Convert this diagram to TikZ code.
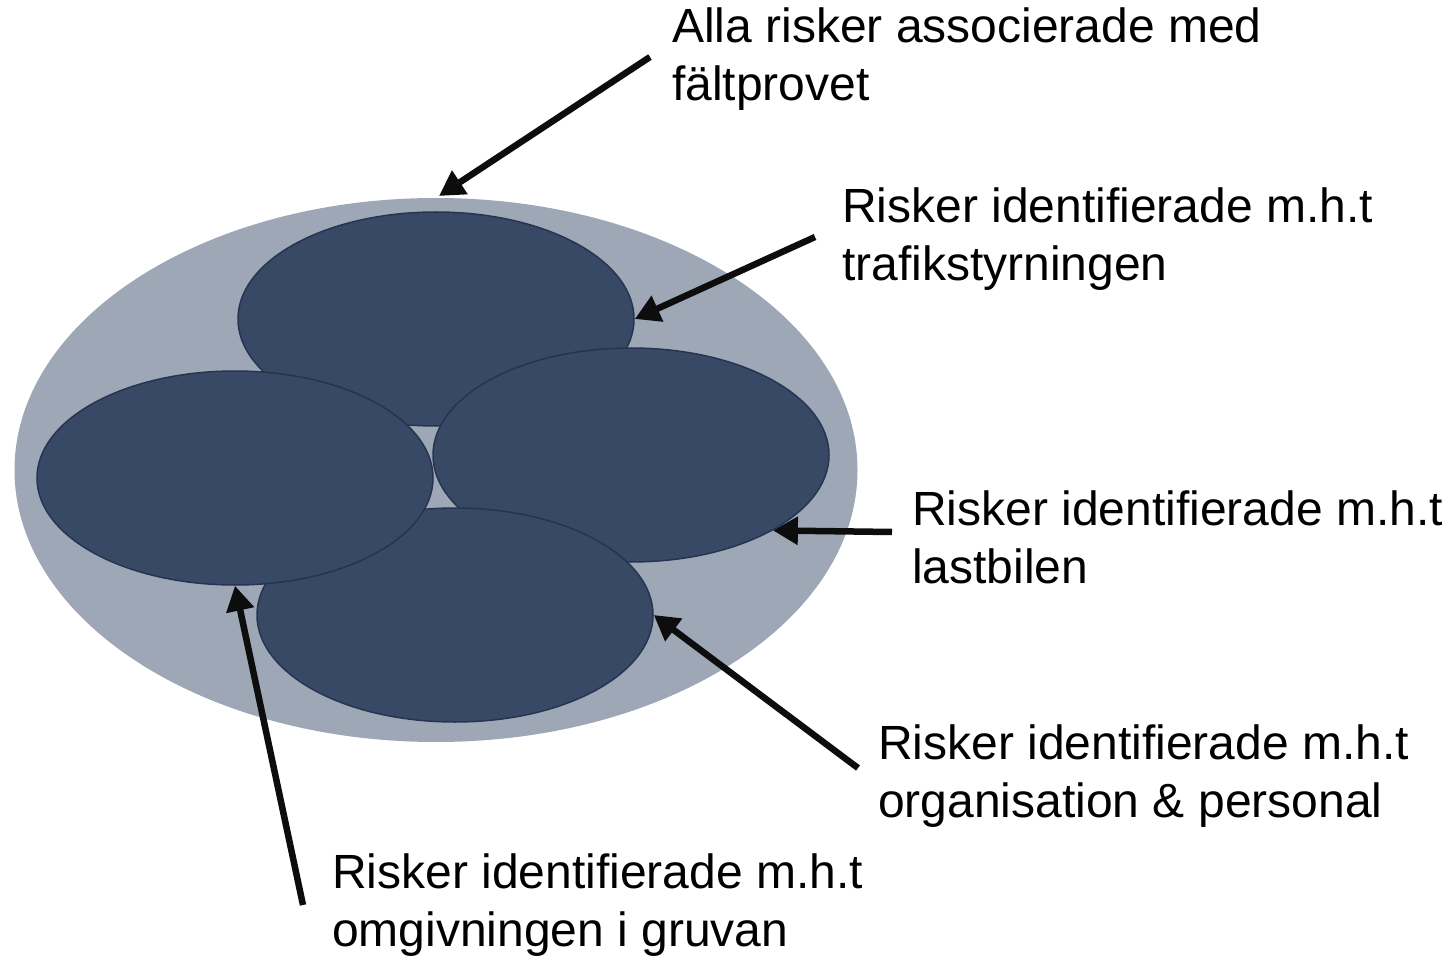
\documentclass[tikz,border=0pt]{standalone}
\usepackage{fontspec}
\setmainfont{Liberation Sans}
\definecolor{outer}{RGB}{157, 167, 182}
\definecolor{inner}{RGB}{56, 73, 102}
\definecolor{rim}{RGB}{38, 52, 80}
\definecolor{ink}{RGB}{13, 13, 13}
\usepackage{tikz}
\usetikzlibrary{shapes.geometric, arrows.meta, positioning}
\tikzset{
    allrisks/.style={ellipse, fill=outer, inner sep=0pt, minimum width=843pt, minimum height=544pt},
    riskset/.style={ellipse, draw=rim, line width=1.5pt, fill=inner, inner sep=0pt, minimum width=396pt, minimum height=214pt},
    label/.style={anchor=north west, inner sep=0pt, align=left, text=black, font=\fontsize{48}{58}\selectfont},
    pointer/.style={line width=6.5pt, ink, -{Triangle[length=25pt, width=27pt]}}
}
\begin{document}
\begin{tikzpicture}[x=1pt, y=-1pt]
        \useasboundingbox (0,0) rectangle (1451,957);

        % Outer set
        \node[allrisks] (all) at (436, 470) {};

        % Four subsets
        \node[riskset] (trafik) at (436, 319) {};
        \node[riskset] (lastbil) at (631, 455) {};
        \node[riskset] (org) at (455, 615) {};
        \node[riskset] (omg) at (235, 478) {};

        % Labels
        \node[label] (lblall) at (672, 8) {Alla risker associerade med\\fältprovet};
        \node[label] (lbltrafik) at (842, 188) {Risker identifierade m.h.t\\trafikstyrningen};
        \node[label] (lbllastbil) at (912, 491) {Risker identifierade m.h.t\\lastbilen};
        \node[label] (lblorg) at (878, 725) {Risker identifierade m.h.t\\organisation \& personal};
        \node[label] (lblomg) at (332, 854) {Risker identifierade m.h.t\\omgivningen i gruvan};

        % Arrow tails
        \coordinate (tailall) at (650, 57);
        \coordinate (tailtrafik) at (815, 237);
        \coordinate (taillastbil) at (892, 532);
        \coordinate (tailorg) at (858, 768);
        \coordinate (tailomg) at (303, 905);
        \coordinate (headall) at (439, 196);

        % Arrows
        \draw[pointer] (tailall) -- (headall);
        \draw[pointer] (tailtrafik) -- (trafik.east);
        \draw[pointer] (taillastbil) -- (lastbil.-28);
        \draw[pointer] (tailorg) -- (org.east);
        \draw[pointer] (tailomg) -- (omg.south);
    \end{tikzpicture}
\end{document}
